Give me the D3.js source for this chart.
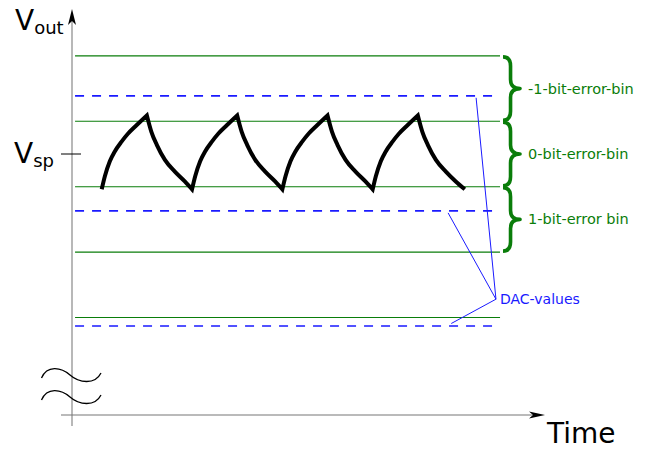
<!DOCTYPE html>
<html>
<head>
<meta charset="utf-8">
<script src="https://cdn.jsdelivr.net/npm/d3@7"></script>
<style>
  html, body { margin: 0; padding: 0; background: #fff; }
  svg { display: block; font-family: "DejaVu Sans", Verdana, sans-serif; }
</style>
</head>
<body>
<svg id="chart" width="646" height="449"></svg>
<script>
// ---------------- data ----------------
// quantizer bin boundaries (green, solid)
const binLevels = [2, 1, 0, -1, -2];
// DAC values (blue, dashed)
const dacLevels = [1.39, -0.37, -2.13];
// set point
const setPoint = 0.5;
// bins and their labels (between consecutive bin boundaries)
const binTops = [2, 1, 0];
const binBottoms = [1, 0, -1];
const binLabels = ["-1-bit-error-bin", "0-bit-error-bin", "1-bit-error bin"];
// DAC leader-line endpoints (time at which the leader meets each DAC line)
const dacLeaderT = [8.29, 7.67, 7.74];
const dacLabel = "DAC-values";
// output waveform (time, voltage)
const waveT = [
  0, 0.07, 0.18, 0.29, 0.44, 0.58, 0.77, 1.0, 1.1, 1.22, 1.4, 1.62, 1.84,
  2, 2.07, 2.18, 2.29, 2.44, 2.58, 2.77, 3.0, 3.1, 3.22, 3.4, 3.62, 3.84,
  4, 4.07, 4.18, 4.29, 4.44, 4.58, 4.77, 5.0, 5.1, 5.22, 5.4, 5.62, 5.84,
  6, 6.07, 6.18, 6.29, 6.44, 6.58, 6.77, 7.0, 7.1, 7.22, 7.4, 7.62, 7.84,
  8.04
];
const waveV = [
  -0.04, 0.16, 0.39, 0.54, 0.69, 0.81, 0.94, 1.09, 0.84, 0.64, 0.41, 0.23, 0.08,
  -0.04, 0.16, 0.39, 0.54, 0.69, 0.81, 0.94, 1.09, 0.84, 0.64, 0.41, 0.23, 0.08,
  -0.04, 0.16, 0.39, 0.54, 0.69, 0.81, 0.94, 1.09, 0.84, 0.64, 0.41, 0.23, 0.08,
  -0.04, 0.16, 0.39, 0.54, 0.69, 0.81, 0.94, 1.09, 0.84, 0.64, 0.41, 0.23, 0.08,
  -0.04
];
// extent of the level lines in time units
const levelT = [-0.59, 8.82];
// axis labels
const yLabelMain = "V", yLabelSub = "out";
const spLabelMain = "V", spLabelSub = "sp";
const xLabel = "Time";

// ---------------- scales ----------------
const x = d3.scaleLinear().domain([0, 8]).range([101.7, 463]);
const y = d3.scaleLinear().domain([-2, 2]).range([317.5, 55.9]);

const svg = d3.select("#chart");
const GREEN = "#0a7d0a", BLUE = "#1a1aff", GRAY = "#9a9a9a";

// ---------------- axes ----------------
const axX = 72, axY = 415;
svg.append("line").attr("x1", axX).attr("x2", axX).attr("y1", 18).attr("y2", 426)
  .attr("stroke", GRAY).attr("stroke-width", 1.4);
svg.append("path").attr("d", `M${axX},9 L${axX+4},25 L${axX},21 L${axX-4},25 Z`).attr("fill", "#000");
svg.append("line").attr("x1", 61).attr("x2", 538).attr("y1", axY).attr("y2", axY)
  .attr("stroke", "#777").attr("stroke-width", 1.2);
svg.append("path").attr("d", `M545,${axY} L529,${axY-3.5} L533,${axY} L529,${axY+3.5} Z`).attr("fill", "#000");

// axis break marks
[0, 22].forEach(dy => {
  const b = 377 + dy;
  svg.append("path")
    .attr("d", `M41.5,${b+1} C47,${b-12} 61,${b-10} 70,${b-2} C79,${b+6} 95,${b+8} 101,${b-4}`)
    .attr("fill", "none").attr("stroke", "#000").attr("stroke-width", 1.3);
});

// set-point tick
svg.append("line").attr("x1", 61).attr("x2", 81)
  .attr("y1", y(setPoint)).attr("y2", y(setPoint))
  .attr("stroke", "#000").attr("stroke-width", 1);

// labels
const tOut = svg.append("text").attr("x", 15).attr("y", 30).attr("fill", "#000");
tOut.append("tspan").attr("font-size", 28).text(yLabelMain);
tOut.append("tspan").attr("font-size", 18).attr("dy", 4).text(yLabelSub);

const tSp = svg.append("text").attr("x", 14).attr("y", y(setPoint) + 9).attr("fill", "#000");
tSp.append("tspan").attr("font-size", 28).text(spLabelMain);
tSp.append("tspan").attr("font-size", 18).attr("dy", 4).text(spLabelSub);

svg.append("text").attr("x", 547).attr("y", 443).attr("font-size", 28).attr("fill", "#000").text(xLabel);

// ---------------- level lines ----------------
svg.selectAll("line.bin").data(binLevels).join("line").attr("class", "bin")
  .attr("x1", x(levelT[0])).attr("x2", x(levelT[1]))
  .attr("y1", d => y(d)).attr("y2", d => y(d))
  .attr("stroke", GREEN).attr("stroke-width", 1.1);

svg.selectAll("line.dac").data(dacLevels).join("line").attr("class", "dac")
  .attr("x1", x(levelT[0])).attr("x2", x(levelT[1]))
  .attr("y1", d => y(d)).attr("y2", d => y(d))
  .attr("stroke", BLUE).attr("stroke-width", 1.7).attr("stroke-dasharray", "9,8");

// ---------------- waveform ----------------
const pts = waveT.map((t, i) => [t, waveV[i]]);
const segs = [];
let cur = [pts[0]];
for (let i = 1; i < pts.length; i++) {
  cur.push(pts[i]);
  if (i < pts.length - 1) {
    const up = pts[i][1] > pts[i-1][1], upNext = pts[i+1][1] > pts[i][1];
    if (up !== upNext) { segs.push(cur); cur = [pts[i]]; }
  }
}
segs.push(cur);
const segLine = d3.line().x(d => x(d[0])).y(d => y(d[1])).curve(d3.curveMonotoneX);
let dPath = "";
segs.forEach((s, i) => {
  const d = segLine(s);
  dPath += i === 0 ? d : d.replace(/^M[^A-Za-z]*/, "");
});
svg.append("path").attr("d", dPath).attr("fill", "none")
  .attr("stroke", "#000").attr("stroke-width", 4)
  .attr("stroke-linejoin", "miter").attr("stroke-miterlimit", 10);

// ---------------- braces ----------------
const bx0 = x(levelT[1]) + 3, bsp = bx0 + 7.5, btip = bx0 + 17;
binTops.forEach((top, i) => {
  const y0 = y(top) + 1, y1 = y(binBottoms[i]) - 1, ym = (y0 + y1) / 2;
  const d = `M${bx0},${y0} Q${bsp},${y0} ${bsp},${y0+9} L${bsp},${ym-9} Q${bsp},${ym} ${btip},${ym}` +
            ` Q${bsp},${ym} ${bsp},${ym+9} L${bsp},${y1-9} Q${bsp},${y1} ${bx0},${y1}`;
  svg.append("path").attr("d", d).attr("fill", "none")
    .attr("stroke", GREEN).attr("stroke-width", 3.6).attr("stroke-linejoin", "round");
  svg.append("text").attr("x", btip + 8).attr("y", ym + 5)
    .attr("font-size", 14.5).attr("fill", GREEN).text(binLabels[i]);
});

// ---------------- DAC leader lines ----------------
const hub = [x(8.73), y(-1.72)];
const leaderEnds = dacLeaderT.map((t, i) => [x(t), y(dacLevels[i]) + (i === 2 ? -2.5 : 2)]);
svg.selectAll("line.leader").data(leaderEnds).join("line").attr("class", "leader")
  .attr("x1", hub[0]).attr("y1", hub[1]).attr("x2", d => d[0]).attr("y2", d => d[1])
  .attr("stroke", BLUE).attr("stroke-width", 1);
svg.append("text").attr("x", hub[0] + 4).attr("y", hub[1] + 5)
  .attr("font-size", 14).attr("fill", BLUE).text(dacLabel);
</script>
</body>
</html>
